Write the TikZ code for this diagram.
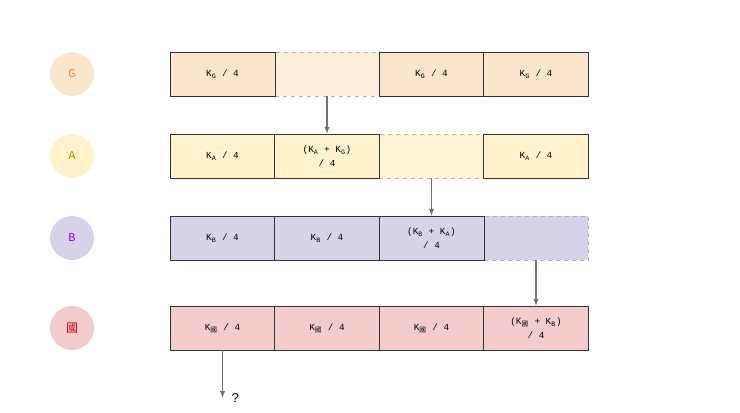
\documentclass[tikz,border=0pt]{standalone}
\usepackage{fontspec}
\setmainfont{Liberation Mono}
\newfontfamily\cjk{Noto Sans CJK SC}
\usepackage{tikz}
\usetikzlibrary{positioning}
\definecolor{gFill}{HTML}{FCE5CD}
\definecolor{aFill}{HTML}{FFF2CC}
\definecolor{bFill}{HTML}{D9D2E9}
\definecolor{kFill}{HTML}{F4CCCC}
\definecolor{gText}{HTML}{E69138}
\definecolor{aText}{HTML}{BF9000}
\definecolor{bText}{HTML}{9900FF}
\definecolor{kText}{HTML}{CC0000}
\tikzset{
  cell/.style={draw=black!80, minimum width=78.4pt, minimum height=33pt, inner sep=0pt, align=center, font=\scriptsize},
  gap/.style={cell, draw=gray!60, dashed},
  party/.style={circle, minimum size=33pt, inner sep=0pt, font=\small},
  flow/.style={->, >=latex, draw=gray!90!black, thick}
}
\newcommand{\Kg}{K\textsubscript{\tiny G}}
\newcommand{\Ka}{K\textsubscript{\tiny A}}
\newcommand{\Kb}{K\textsubscript{\tiny B}}
\newcommand{\Kk}{K\textsubscript{\tiny\cjk 國}}
\begin{document}
\begin{tikzpicture}[x=0.75pt, y=-0.75pt]
    \useasboundingbox (0,0) rectangle (740,412);

    % Parties
    \node[party, fill=gFill, text=gText] (pG) at (72,74) {G};
    \node[party, fill=aFill, text=aText] (pA) at (72,156) {A};
    \node[party, fill=bFill, text=bText] (pB) at (72,238) {B};
    \node[party, fill=kFill, text=kText] (pK) at (72,328) {\cjk 國};

    % Row G
    \node[gap, fill=gFill!70] (g2) at (327,74) {};
    \node[cell, fill=gFill] (g1) at (222.5,74) {\Kg~/ 4};
    \node[cell, fill=gFill] (g3) at (431.5,74) {\Kg~/ 4};
    \node[cell, fill=gFill] (g4) at (536,74) {\Kg~/ 4};

    % Row A
    \node[gap, fill=aFill!80] (a3) at (431.5,156) {};
    \node[cell, fill=aFill] (a1) at (222.5,156) {\Ka~/ 4};
    \node[cell, fill=aFill] (a2) at (327,156) {(\Ka~+ \Kg)\\[2pt]/ 4};
    \node[cell, fill=aFill] (a4) at (536,156) {\Ka~/ 4};

    % Row B
    \node[gap, fill=bFill] (b4) at (536,238) {};
    \node[cell, fill=bFill] (b1) at (222.5,238) {\Kb~/ 4};
    \node[cell, fill=bFill] (b2) at (327,238) {\Kb~/ 4};
    \node[cell, fill=bFill] (b3) at (431.5,238) {(\Kb~+ \Ka)\\[2pt]/ 4};

    % Row K
    \node[cell, fill=kFill] (k1) at (222.5,328) {\Kk~/ 4};
    \node[cell, fill=kFill] (k2) at (327,328) {\Kk~/ 4};
    \node[cell, fill=kFill] (k3) at (431.5,328) {\Kk~/ 4};
    \node[cell, fill=kFill] (k4) at (536,328) {(\Kk~+ \Kb)\\[2pt]/ 4};

    % Transfers
    \draw[flow] (g2.south) -- (a2.north);
    \draw[flow] (a3.south) -- (b3.north);
    \draw[flow] (b4.south) -- (k4.north);
    \coordinate (out) at (222.5,398);
    \draw[flow] (k1.south) -- (out);
    \node[font=\normalsize, anchor=west] (q) at (227,398) {?};
\end{tikzpicture}
\end{document}
